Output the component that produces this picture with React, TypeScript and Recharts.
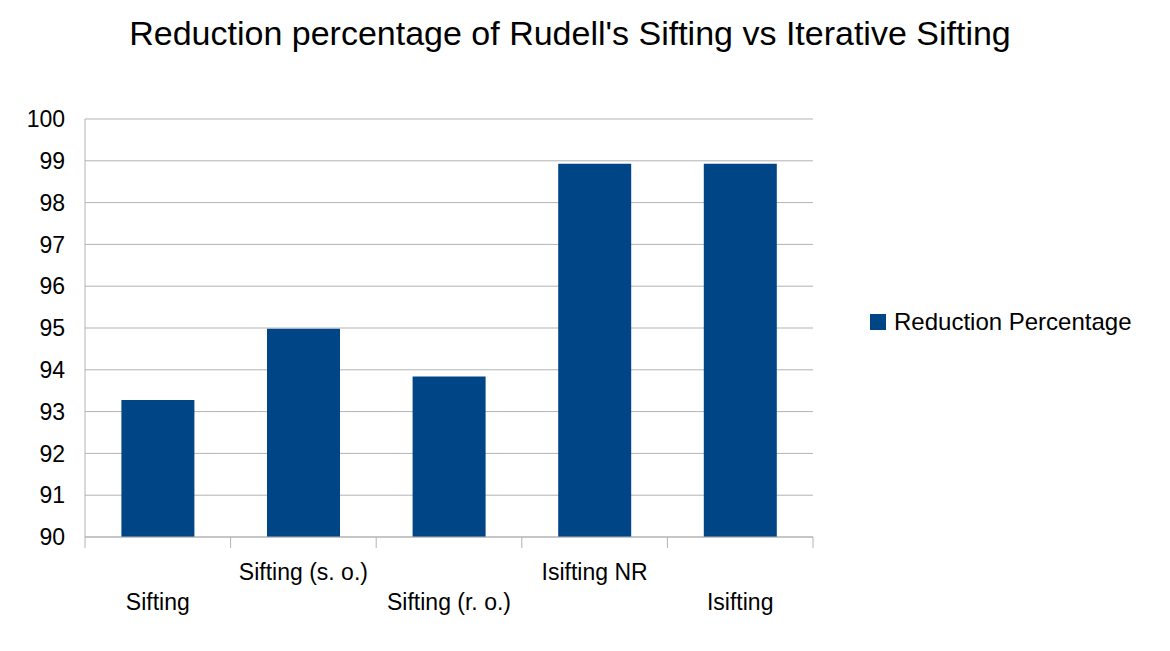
import React from "react";
import { BarChart, Bar, XAxis, YAxis, CartesianGrid } from "recharts";

const categories = ["Sifting", "Sifting (s. o.)", "Sifting (r. o.)", "Isifting NR", "Isifting"];
const reduction = [93.28, 94.98, 93.84, 98.93, 98.93];
const yTicks = [90, 91, 92, 93, 94, 95, 96, 97, 98, 99, 100];
const seriesName = "Reduction Percentage";

const data = categories.map((c, i) => ({ name: c, value: reduction[i] }));
const FONT = "'Liberation Sans', Arial, sans-serif";
const BAND = 728 / 5;

const XTick = (props: any) => {
  const { x, payload, index } = props;
  const odd = index % 2 === 1;
  const y0 = 537;
  return (
    <g>
      <line x1={x - BAND / 2} x2={x - BAND / 2} y1={y0} y2={y0 + 11} stroke="#b3b3b3" />
      {index === categories.length - 1 && (
        <line x1={x + BAND / 2} x2={x + BAND / 2} y1={y0} y2={y0 + 11} stroke="#b3b3b3" />
      )}
      <text x={x} y={odd ? 580 : 610} textAnchor="middle" fontSize={23} fill="#000" fontFamily={FONT}>
        {payload.value}
      </text>
    </g>
  );
};

export default function App() {
  return (
    <div style={{ position: "absolute", left: 0, top: 0, width: 1170, height: 651, background: "#fff", fontFamily: FONT }}>
      <div style={{ position: "absolute", left: 0, width: 1140, top: 14, textAlign: "center", fontSize: 34, color: "#000" }}>
        Reduction percentage of Rudell's Sifting vs Iterative Sifting
      </div>
      <div style={{ position: "absolute", left: 870, top: 308, fontSize: 24, color: "#000", display: "flex", alignItems: "center", whiteSpace: "nowrap" }}>
        <span style={{ display: "inline-block", width: 16, height: 16, background: "#004586", marginRight: 8 }} />
        {seriesName}
      </div>
      <BarChart width={1170} height={651} data={data} margin={{ top: 119, right: 357, bottom: 84, left: 0 }} barCategoryGap="25%">
        <CartesianGrid yAxisId="l" vertical={false} stroke="#b3b3b3" />
        <XAxis dataKey="name" axisLine={{ stroke: "#b3b3b3" }} tickLine={false} tick={<XTick />} interval={0} height={30} />
        <YAxis yAxisId="l" domain={[90, 100]} ticks={yTicks} width={85} axisLine={{ stroke: "#b3b3b3" }} tickLine={false} tickMargin={14} tick={{ fontSize: 23, fill: "#000", fontFamily: FONT }} />
        <YAxis yAxisId="r" orientation="right" domain={[90, 100]} width={0} tick={false} tickLine={false} axisLine={{ stroke: "#b3b3b3" }} />
        <Bar yAxisId="l" dataKey="value" name={seriesName} fill="#004586" isAnimationActive={false} />
      </BarChart>
    </div>
  );
}
